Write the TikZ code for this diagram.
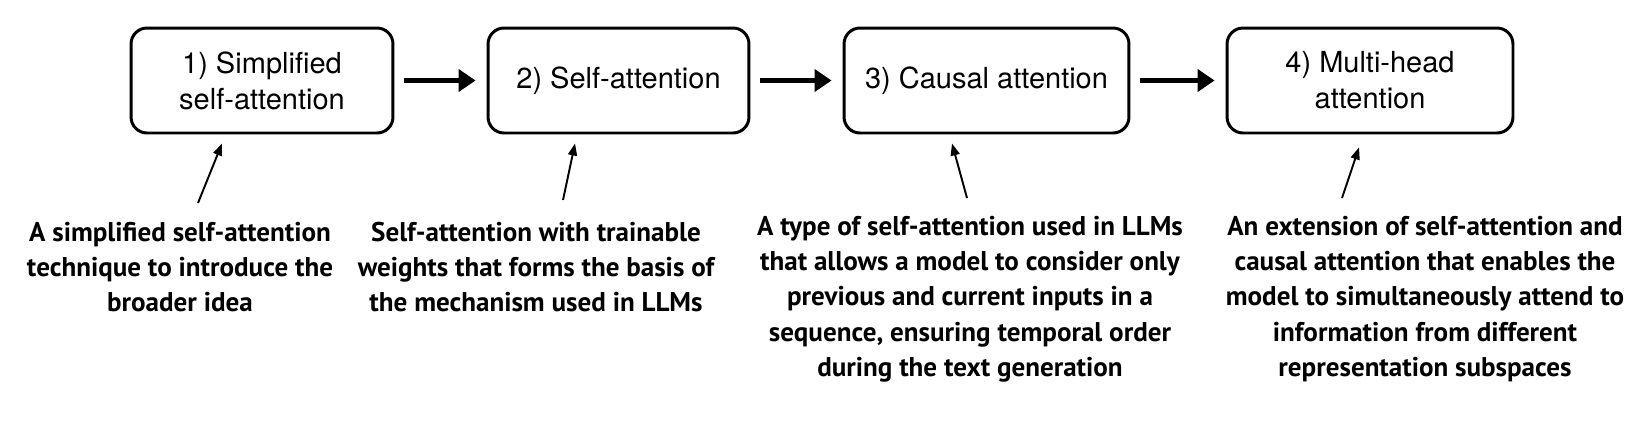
\documentclass[tikz,border=0pt]{standalone}
\usepackage{fontspec}
\setmainfont{TeX Gyre Heros}
\newfontfamily\notefont{PT Sans}
\usetikzlibrary{arrows.meta}

\tikzset{
  stage/.style={draw, line width=1.7pt, rounded corners=0.32cm, minimum height=2.1cm,
    align=center, inner sep=0pt, font=\fontsize{16.5}{20.5}\selectfont},
  flow/.style={line width=2.3pt, shorten <=0.2cm, shorten >=0.22cm,
    -{Triangle[length=0.34cm, width=0.44cm]}},
  note/.style={anchor=north, align=center, inner sep=0pt,
    font=\notefont\bfseries\fontsize{15.4}{20}\selectfont},
  pointer/.style={line width=1.1pt, -{Triangle[length=0.24cm, width=0.18cm]}}
}

\begin{document}
\begin{tikzpicture}[x=0.02cm, y=-0.02cm]
  \useasboundingbox (0,0) rectangle (1631,424);

  % stages
  \node[stage, minimum width=5.24cm] (simple) at (262,80.5) {1) Simplified\\self-attention};
  \node[stage, minimum width=5.22cm] (self) at (618.5,80.5) {2) Self-attention};
  \node[stage, minimum width=5.7cm] (causal) at (986.5,80.5) {3) Causal attention};
  \node[stage, minimum width=5.72cm] (multi) at (1370,80.5) {4) Multi-head\\attention};

  \draw[flow] (simple) -- (self);
  \draw[flow] (self) -- (causal);
  \draw[flow] (causal) -- (multi);

  % notes
  \node[note] (n1) at (180,222) {A simplified self-attention\\technique to introduce the\\broader idea};
  \node[note] (n2) at (536,222) {Self-attention with trainable\\weights that forms the basis of\\the mechanism used in LLMs};
  \node[note] (n3) at (970,216) {A type of self-attention used in LLMs\\that allows a model to consider only\\previous and current inputs in a\\sequence, ensuring temporal order\\during the text generation};
  \node[note] (n4) at (1425,216) {An extension of self-attention and\\causal attention that enables the\\model to simultaneously attend to\\information from different\\representation subspaces};

  \coordinate (t1) at (198,203);
  \coordinate (t2) at (563,200);
  \coordinate (t3) at (967,198);
  \coordinate (t4) at (1342,198);

  \draw[pointer] (t1) -- ([xshift=-0.8cm, yshift=-0.18cm]simple.south);
  \draw[pointer] (t2) -- ([xshift=-0.87cm, yshift=-0.18cm]self.south);
  \draw[pointer] (t3) -- ([xshift=-0.69cm, yshift=-0.18cm]causal.south);
  \draw[pointer] (t4) -- ([xshift=-0.22cm, yshift=-0.26cm]multi.south);
\end{tikzpicture}
\end{document}
